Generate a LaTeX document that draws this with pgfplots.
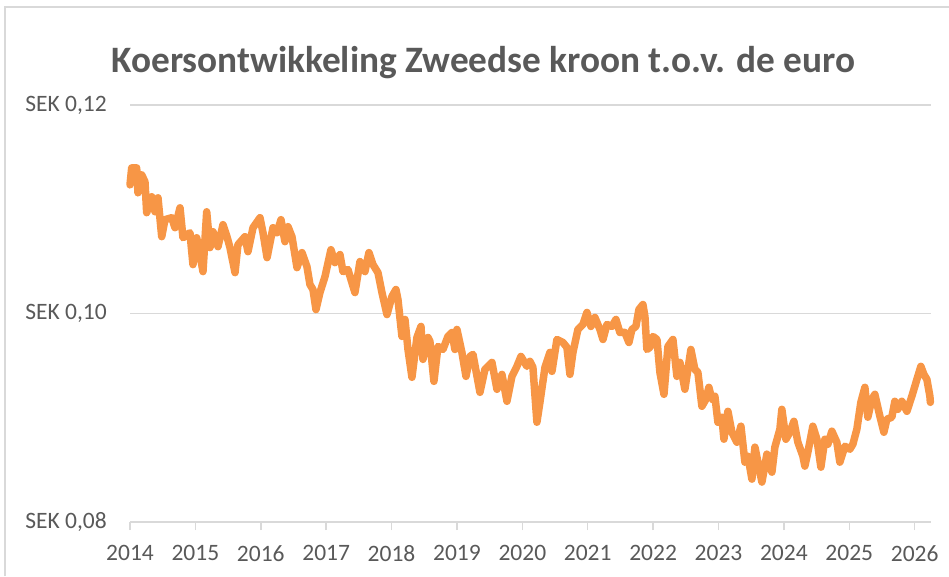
\documentclass[border=0pt]{standalone}
\usepackage{pgfplots}
\pgfplotsset{compat=1.18}
\usepackage{pgfplotstable}
\usepackage{fontspec}
\setmainfont{Carlito}
\definecolor{lineorange}{RGB}{247,150,70}
\definecolor{gridgray}{RGB}{217,217,217}
\definecolor{textgray}{RGB}{89,89,89}

\pgfplotstableread{
year value
2014.000 0.11234
2014.026 0.11397
2014.102 0.11397
2014.122 0.11158
2014.179 0.11330
2014.229 0.11263
2014.255 0.10967
2014.332 0.11120
2014.382 0.10976
2014.428 0.11110
2014.485 0.10737
2014.535 0.10900
2014.638 0.10919
2014.688 0.10823
2014.765 0.11014
2014.810 0.10727
2014.917 0.10775
2014.963 0.10469
2015.020 0.10727
2015.070 0.10565
2015.116 0.10402
2015.173 0.10976
2015.223 0.10632
2015.269 0.10785
2015.346 0.10641
2015.422 0.10852
2015.483 0.10737
2015.529 0.10632
2015.606 0.10392
2015.651 0.10660
2015.758 0.10737
2015.804 0.10593
2015.881 0.10823
2015.988 0.10919
2016.034 0.10775
2016.096 0.10536
2016.187 0.10823
2016.248 0.10775
2016.309 0.10900
2016.370 0.10689
2016.416 0.10833
2016.477 0.10737
2016.554 0.10440
2016.630 0.10584
2016.706 0.10450
2016.752 0.10278
2016.798 0.10230
2016.844 0.10038
2016.905 0.10201
2016.982 0.10354
2017.073 0.10612
2017.135 0.10488
2017.211 0.10565
2017.257 0.10402
2017.333 0.10421
2017.440 0.10201
2017.517 0.10498
2017.593 0.10402
2017.654 0.10584
2017.716 0.10469
2017.792 0.10392
2017.853 0.10201
2017.930 0.09990
2018.006 0.10163
2018.067 0.10230
2018.098 0.10134
2018.159 0.09780
2018.205 0.09943
2018.251 0.09655
2018.312 0.09388
2018.388 0.09770
2018.450 0.09876
2018.480 0.09560
2018.557 0.09770
2018.587 0.09732
2018.648 0.09349
2018.710 0.09684
2018.786 0.09655
2018.862 0.09780
2018.924 0.09818
2018.969 0.09655
2019.000 0.09847
2019.076 0.09627
2019.138 0.09397
2019.199 0.09588
2019.245 0.09608
2019.352 0.09244
2019.428 0.09464
2019.535 0.09531
2019.612 0.09273
2019.688 0.09416
2019.765 0.09158
2019.841 0.09397
2019.917 0.09493
2019.979 0.09588
2020.070 0.09493
2020.116 0.09541
2020.162 0.09483
2020.223 0.08957
2020.269 0.09148
2020.346 0.09483
2020.422 0.09627
2020.453 0.09445
2020.529 0.09751
2020.621 0.09722
2020.682 0.09675
2020.728 0.09416
2020.774 0.09627
2020.850 0.09847
2020.927 0.09895
2020.988 0.10010
2021.049 0.09876
2021.110 0.09962
2021.187 0.09847
2021.233 0.09751
2021.294 0.09895
2021.370 0.09876
2021.431 0.09943
2021.492 0.09818
2021.569 0.09818
2021.630 0.09722
2021.676 0.09847
2021.737 0.09876
2021.783 0.10038
2021.844 0.10086
2021.875 0.09971
2021.905 0.09655
2021.951 0.09675
2021.997 0.09780
2022.059 0.09751
2022.104 0.09435
2022.166 0.09225
2022.227 0.09684
2022.303 0.09751
2022.364 0.09397
2022.410 0.09531
2022.486 0.09273
2022.578 0.09655
2022.639 0.09464
2022.685 0.09435
2022.746 0.09110
2022.807 0.09177
2022.853 0.09292
2022.899 0.09177
2022.945 0.09206
2022.991 0.08957
2023.052 0.09005
2023.083 0.08794
2023.144 0.09062
2023.205 0.08861
2023.281 0.08765
2023.343 0.08919
2023.404 0.08574
2023.450 0.08631
2023.511 0.08411
2023.557 0.08718
2023.603 0.08574
2023.664 0.08383
2023.740 0.08651
2023.817 0.08478
2023.862 0.08718
2023.939 0.08890
2023.969 0.09081
2024.031 0.08794
2024.092 0.08861
2024.153 0.08966
2024.214 0.08765
2024.291 0.08631
2024.321 0.08536
2024.367 0.08670
2024.443 0.08919
2024.505 0.08794
2024.566 0.08526
2024.627 0.08794
2024.673 0.08746
2024.734 0.08871
2024.810 0.08765
2024.856 0.08574
2024.933 0.08727
2025.009 0.08698
2025.055 0.08746
2025.116 0.08890
2025.177 0.09148
2025.239 0.09292
2025.284 0.09005
2025.346 0.09177
2025.391 0.09225
2025.468 0.09014
2025.529 0.08861
2025.575 0.08986
2025.651 0.09005
2025.697 0.09158
2025.743 0.09081
2025.804 0.09158
2025.881 0.09062
2025.957 0.09206
2026.034 0.09368
2026.095 0.09493
2026.141 0.09416
2026.187 0.09368
2026.233 0.09206
2026.240 0.09148
}\sekdata

\begin{document}
\begin{tikzpicture}[x=1pt,y=1pt]
\useasboundingbox (0,0) rectangle (949,576);
\draw[gridgray, line width=1.5pt] (5,0) -- (5,569) -- (949,569);
\node[anchor=base, text=textgray, font=\fontsize{37.3}{44}\selectfont\bfseries] at (483.5,503) {Koersontwikkeling Zweedse kroon t.o.v. de euro};
\begin{axis}[
  at={(130pt,54pt)}, anchor=south west,
  scale only axis, width=801pt, height=417pt,
  xmin=2014, xmax=2026.25, ymin=0.08, ymax=0.12,
  axis line style={draw=none},
  axis x line*=bottom,
  axis y line=none,
  xtick={2014,2015,2016,2017,2018,2019,2020,2021,2022,2023,2024,2025,2026},
  xticklabels={2014,2015,2016,2017,2018,2019,2020,2021,2022,2023,2024,2025,2026},
  tick align=outside,
  major tick length=8pt,
  xtick style={draw=gridgray, line width=1.5pt},
  xticklabel style={text=textgray, font=\fontsize{23.5}{27}\selectfont, inner sep=0pt, anchor=north, yshift=-15pt},
  clip=false,
]
\draw[gridgray, line width=1.5pt] (axis cs:2014,0.12) -- (axis cs:2026.25,0.12);
\draw[gridgray, line width=1.5pt] (axis cs:2014,0.10) -- (axis cs:2026.25,0.10);
\draw[gridgray, line width=2pt] (axis cs:2014,0.08) -- (axis cs:2026.25,0.08);
\node[anchor=east, inner sep=0pt, text=textgray, font=\fontsize{23.5}{27}\selectfont] at ([xshift=-23pt]axis cs:2014,0.12) {SEK 0,12};
\node[anchor=east, inner sep=0pt, text=textgray, font=\fontsize{23.5}{27}\selectfont] at ([xshift=-23pt]axis cs:2014,0.10) {SEK 0,10};
\node[anchor=east, inner sep=0pt, text=textgray, font=\fontsize{23.5}{27}\selectfont] at ([xshift=-23pt]axis cs:2014,0.08) {SEK 0,08};
\addplot[lineorange, line width=7.5pt, line join=round, line cap=round] table[x=year,y=value] {\sekdata};
\end{axis}
\end{tikzpicture}
\end{document}
